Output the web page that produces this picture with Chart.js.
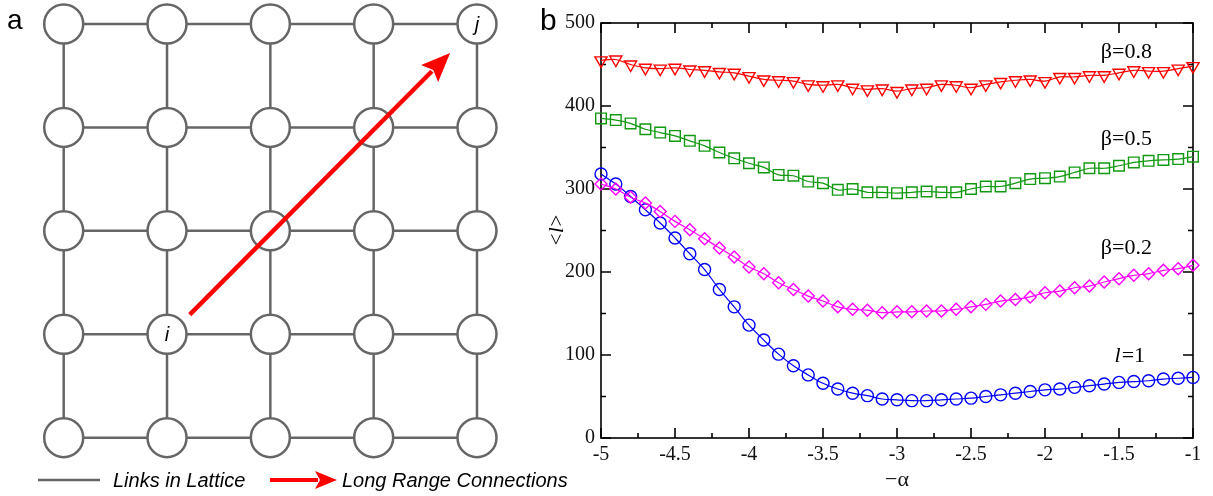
<!DOCTYPE html>
<html lang="en">
<head>
<meta charset="UTF-8">
<title>Lattice and mean path length</title>
<script src="https://cdn.jsdelivr.net/npm/chart.js"></script>
<style>
    body {
        margin: 0;
        background: #fff;
    }
    .figure {
        position: relative;
        width: 1213px;
        height: 496px;
        overflow: hidden;
    }
    #latticeChart {
        position: absolute;
        left: 0;
        top: 0;
    }
    #pathChart {
        position: absolute;
        left: 540px;
        top: 0;
    }
</style>
</head>
<body>
<div class="figure">
    <canvas id="latticeChart" width="600" height="496"></canvas>
    <canvas id="pathChart" width="673" height="496"></canvas>
</div>

<script>
// ---- panel a: lattice ----
const latticeCols = [0, 1, 2, 3, 4];
const latticeRows = [0, 1, 2, 3, 4];
const nodeI = { x: 1, y: 1 };
const nodeJ = { x: 4, y: 4 };
const arrowTail = { x: 1.22, y: 1.19 };
const arrowTip = { x: 3.74, y: 3.72 };

// ---- panel b: <l> vs -alpha ----
const alphaValues = [-5.0, -4.9, -4.8, -4.7, -4.6, -4.5, -4.4, -4.3, -4.2, -4.1,
                     -4.0, -3.9, -3.8, -3.7, -3.6, -3.5, -3.4, -3.3, -3.2, -3.1,
                     -3.0, -2.9, -2.8, -2.7, -2.6, -2.5, -2.4, -2.3, -2.2, -2.1,
                     -2.0, -1.9, -1.8, -1.7, -1.6, -1.5, -1.4, -1.3, -1.2, -1.1, -1.0];
const pathBeta08 = [455, 456, 450, 446, 445, 446, 444, 443, 441, 440,
                    436, 432, 431, 430, 426, 425, 426, 422, 420, 421,
                    418, 421, 422, 426, 425, 422, 426, 429, 431, 432,
                    430, 435, 435, 437, 437, 440, 443, 442, 442, 445, 448];
const pathBeta05 = [385, 383, 379, 372, 368, 364, 358, 352, 344, 337,
                    331, 326, 317, 316, 309, 307, 299, 300, 296, 296,
                    295, 296, 297, 296, 296, 300, 303, 303, 307, 312,
                    313, 315, 320, 325, 325, 328, 332, 334, 335, 336, 339];
const pathBeta02 = [306, 300, 290, 283, 273, 261, 251, 240, 229, 218,
                    206, 198, 187, 179, 171, 165, 158, 155, 154, 151,
                    152, 152, 153, 153, 155, 158, 161, 165, 167, 170,
                    175, 177, 181, 183, 188, 192, 196, 198, 202, 204, 208];
const pathL1 = [318, 306, 291, 275, 259, 241, 222, 203, 179, 158,
                136, 118, 101, 87, 76, 66, 59, 54, 51, 47,
                46, 45, 45, 46, 47, 48, 50, 52, 54, 56,
                58, 59, 61, 63, 65, 67, 68, 69, 71, 72, 73];
const curveLabels = ['β=0.8', 'β=0.5', 'β=0.2', 'l=1'];
const labelAlpha = [-1.45, -1.45, -1.45, -1.43];
const labelPath = [465, 360, 229, 98];

const GRAY = '#666';
const RED = '#ff0000';
const SERIF = "'Liberation Serif', 'DejaVu Serif', serif";
const SANS = "'Liberation Sans', Arial, sans-serif";

// lattice links: one dataset per row and per column
const linkSets = [];
latticeRows.forEach(r => {
    linkSets.push(latticeCols.map(c => ({ x: c, y: r })));
});
latticeCols.forEach(c => {
    linkSets.push(latticeRows.map(r => ({ x: c, y: r })));
});
const nodes = [];
latticeRows.forEach(r => latticeCols.forEach(c => nodes.push({ x: c, y: r })));

// shaft stops where the arrow head begins
const shaftEnd = {
    x: arrowTail.x + (arrowTip.x - arrowTail.x) * 0.93,
    y: arrowTail.y + (arrowTip.y - arrowTail.y) * 0.93
};

function arrowHead(ctx, fromX, fromY, toX, toY, len, half) {
    const ang = Math.atan2(toY - fromY, toX - fromX);
    ctx.save();
    ctx.translate(toX, toY);
    ctx.rotate(ang);
    ctx.beginPath();
    ctx.moveTo(0, 0);
    ctx.lineTo(-len, -half);
    ctx.lineTo(-len + 5, 0);
    ctx.lineTo(-len, half);
    ctx.closePath();
    ctx.fillStyle = RED;
    ctx.fill();
    ctx.restore();
}

const latticeDecor = {
    id: 'latticeDecor',
    afterDatasetsDraw(chart) {
        const { ctx, scales: { x, y } } = chart;
        ctx.save();
        // arrow head
        arrowHead(ctx, x.getPixelForValue(arrowTail.x), y.getPixelForValue(arrowTail.y),
                  x.getPixelForValue(arrowTip.x), y.getPixelForValue(arrowTip.y), 29, 12);
        // node names
        ctx.fillStyle = '#000';
        ctx.font = 'italic 20px ' + SANS;
        ctx.textAlign = 'center';
        ctx.textBaseline = 'middle';
        ctx.fillText('i', x.getPixelForValue(nodeI.x), y.getPixelForValue(nodeI.y) + 1);
        ctx.fillText('j', x.getPixelForValue(nodeJ.x), y.getPixelForValue(nodeJ.y) + 1);
        // panel letter
        ctx.textAlign = 'left';
        ctx.textBaseline = 'alphabetic';
        ctx.font = '28px ' + SANS;
        ctx.fillText('a', 7, 29);
        // legend
        ctx.strokeStyle = GRAY;
        ctx.lineWidth = 2.5;
        ctx.beginPath();
        ctx.moveTo(38, 480);
        ctx.lineTo(100, 480);
        ctx.stroke();
        ctx.strokeStyle = RED;
        ctx.lineWidth = 4;
        ctx.beginPath();
        ctx.moveTo(270, 480);
        ctx.lineTo(318, 480);
        ctx.stroke();
        arrowHead(ctx, 270, 480, 337, 480, 22, 9);
        ctx.font = 'italic 20px ' + SANS;
        ctx.textBaseline = 'middle';
        ctx.fillStyle = '#000';
        ctx.fillText('Links in Lattice', 113, 481);
        ctx.fillText('Long Range Connections', 342, 481);
        ctx.restore();
    }
};

const latticeData = linkSets.map(pts => ({
    type: 'line',
    data: pts,
    borderColor: GRAY,
    borderWidth: 2.5,
    pointRadius: 0,
    clip: false,
    order: 2
}));
latticeData.push({
    type: 'scatter',
    data: nodes,
    pointRadius: 19.5,
    pointBackgroundColor: '#fff',
    pointBorderColor: GRAY,
    pointBorderWidth: 2.5,
    clip: false,
    order: 1
});
latticeData.push({
    type: 'line',
    data: [arrowTail, shaftEnd],
    borderColor: RED,
    borderWidth: 4.5,
    pointRadius: 0,
    clip: false,
    order: 0
});

new Chart(document.getElementById('latticeChart'), {
    type: 'scatter',
    data: { datasets: latticeData },
    options: {
        responsive: false,
        animation: false,
        events: [],
        layout: { padding: { left: 63.7, right: 123, top: 24, bottom: 58.3 } },
        plugins: { legend: { display: false }, tooltip: { enabled: false } },
        scales: {
            x: { type: 'linear', min: 0, max: 4, display: false },
            y: { type: 'linear', min: 0, max: 4, display: false }
        }
    },
    plugins: [latticeDecor]
});

// frame with inward ticks on all four sides
const frameTicks = {
    id: 'frameTicks',
    beforeDatasetsDraw(chart) {
        const { ctx, chartArea: a, scales: { x, y } } = chart;
        ctx.save();
        ctx.strokeStyle = '#000';
        ctx.lineWidth = 1.6;
        ctx.strokeRect(a.left, a.top, a.right - a.left, a.bottom - a.top);
        ctx.beginPath();
        x.ticks.forEach((t, i) => {
            const px = x.getPixelForValue(t.value);
            ctx.moveTo(px, a.bottom); ctx.lineTo(px, a.bottom - 10);
            ctx.moveTo(px, a.top); ctx.lineTo(px, a.top + 10);
            if (i < x.ticks.length - 1) {
                const pm = x.getPixelForValue(t.value + 0.25);
                ctx.moveTo(pm, a.bottom); ctx.lineTo(pm, a.bottom - 5);
                ctx.moveTo(pm, a.top); ctx.lineTo(pm, a.top + 5);
            }
        });
        y.ticks.forEach((t, i) => {
            const py = y.getPixelForValue(t.value);
            ctx.moveTo(a.left, py); ctx.lineTo(a.left + 10, py);
            ctx.moveTo(a.right, py); ctx.lineTo(a.right - 10, py);
            if (i < y.ticks.length - 1) {
                const pm = y.getPixelForValue(t.value + 50);
                ctx.moveTo(a.left, pm); ctx.lineTo(a.left + 5, pm);
                ctx.moveTo(a.right, pm); ctx.lineTo(a.right - 5, pm);
            }
        });
        ctx.stroke();
        ctx.restore();
    },
    afterDraw(chart) {
        const { ctx, chartArea: a, scales: { x, y } } = chart;
        ctx.save();
        ctx.fillStyle = '#000';
        // panel letter
        ctx.font = '30px ' + SANS;
        ctx.textBaseline = 'alphabetic';
        ctx.textAlign = 'left';
        ctx.fillText('b', 0, 30);
        // curve labels, "l" in italics
        ctx.textBaseline = 'middle';
        curveLabels.forEach((txt, i) => {
            const px = x.getPixelForValue(labelAlpha[i]);
            const py = y.getPixelForValue(labelPath[i]);
            if (txt.startsWith('l')) {
                ctx.font = 'italic 22px ' + SERIF;
                const w1 = ctx.measureText('l').width;
                ctx.font = '22px ' + SERIF;
                const w2 = ctx.measureText(txt.slice(1)).width;
                const x0 = px - (w1 + w2) / 2;
                ctx.font = 'italic 22px ' + SERIF;
                ctx.fillText('l', x0, py);
                ctx.font = '22px ' + SERIF;
                ctx.fillText(txt.slice(1), x0 + w1 + 1, py);
            } else {
                ctx.font = '22px ' + SERIF;
                ctx.textAlign = 'center';
                ctx.fillText(txt, px, py);
                ctx.textAlign = 'left';
            }
        });
        // y title <l>
        ctx.translate(a.left - 44, (a.top + a.bottom) / 2);
        ctx.rotate(-Math.PI / 2);
        ctx.font = '21px ' + SERIF;
        const wl = ctx.measureText('<').width;
        ctx.font = 'italic 21px ' + SERIF;
        const wi = ctx.measureText('l').width;
        const start = -(wl * 2 + wi) / 2;
        ctx.font = '21px ' + SERIF;
        ctx.fillText('<', start, 0);
        ctx.font = 'italic 21px ' + SERIF;
        ctx.fillText('l', start + wl + 0.5, 0);
        ctx.font = '21px ' + SERIF;
        ctx.fillText('>', start + wl + wi + 1, 0);
        ctx.restore();
    }
};

function series(values, color, style, radius, rotation) {
    return {
        data: values,
        borderColor: color,
        borderWidth: 1.2,
        pointStyle: style,
        pointRadius: radius,
        pointRotation: rotation || 0,
        pointBorderColor: color,
        pointBorderWidth: 1.4,
        pointBackgroundColor: 'rgba(0,0,0,0)',
        tension: 0.35,
        clip: false
    };
}

const tickFont = { family: SERIF, size: 20 };

new Chart(document.getElementById('pathChart'), {
    type: 'line',
    data: {
        labels: alphaValues,
        datasets: [
            series(pathBeta08, RED, 'triangle', 7, 180),
            series(pathBeta05, '#119911', 'rect', 7.5),
            series(pathBeta02, '#ff00ff', 'rectRot', 6),
            series(pathL1, '#0000ff', 'circle', 6)
        ]
    },
    options: {
        responsive: false,
        animation: false,
        events: [],
        layout: { padding: { left: 0, right: 20, top: 23, bottom: 0 } },
        plugins: { legend: { display: false }, tooltip: { enabled: false } },
        scales: {
            x: {
                type: 'linear',
                min: -5,
                max: -1,
                afterFit: s => { s.height = 58; },
                grid: { display: false, drawTicks: false },
                border: { display: false },
                ticks: {
                    stepSize: 0.5,
                    padding: 5,
                    maxRotation: 0,
                    autoSkip: false,
                    color: '#111',
                    font: tickFont,
                    callback: v => String(v)
                },
                title: {
                    display: true,
                    text: '\u2212\u03b1',
                    color: '#111',
                    font: { family: SERIF, size: 22 },
                    padding: { top: 0, bottom: 3 }
                }
            },
            y: {
                min: 0,
                max: 500,
                afterFit: s => { s.width = 61; },
                grid: { display: false, drawTicks: false },
                border: { display: false },
                ticks: {
                    stepSize: 100,
                    padding: 6,
                    color: '#111',
                    font: tickFont
                }
            }
        }
    },
    plugins: [frameTicks]
});
</script>
</body>
</html>
